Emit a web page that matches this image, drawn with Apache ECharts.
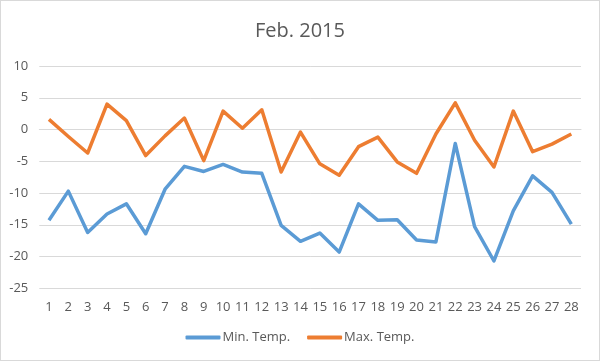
<!DOCTYPE html>
<html><head><meta charset="utf-8">
<script src="https://cdn.jsdelivr.net/npm/echarts@6/dist/echarts.min.js"></script>
<style>html,body{margin:0;padding:0;background:#fff}#c{width:598px;height:359px;border:1px solid #d9d9d9}</style>
</head><body><div id="c"></div>
<script>
const title = "Feb. 2015";
const days = ["1","2","3","4","5","6","7","8","9","10","11","12","13","14","15","16","17","18","19","20","21","22","23","24","25","26","27","28"];
const minTemp = [-14.3,-9.7,-16.2,-13.3,-11.7,-16.4,-9.4,-5.8,-6.6,-5.5,-6.7,-6.9,-15.1,-17.6,-16.3,-19.3,-11.7,-14.3,-14.2,-17.4,-17.7,-2.2,-15.3,-20.7,-12.8,-7.3,-9.9,-14.9];
const maxTemp = [1.6,-1.1,-3.7,4.0,1.4,-4.1,-1.0,1.8,-4.9,2.9,0.2,3.1,-6.7,-0.4,-5.4,-7.2,-2.7,-1.2,-5.1,-6.9,-0.7,4.2,-1.7,-5.9,2.9,-3.5,-2.3,-0.7];
const seriesNames = ["Min. Temp.","Max. Temp."];
const font = "'Open Sans', sans-serif";
const chart = echarts.init(document.getElementById('c'));
chart.setOption({
  animation:false,
  title:{text:title,left:'center',top:15,textStyle:{fontFamily:font,fontSize:20,fontWeight:'normal',color:'#595959'}},
  legend:{bottom:11,itemWidth:35,itemHeight:4,itemGap:17,icon:'roundRect',
    textStyle:{fontFamily:font,fontSize:13,color:'#595959',padding:[0,0,0,-3]},data:seriesNames},
  grid:{left:38.3,right:18,top:65,bottom:71.7,containLabel:false},
  xAxis:{type:'category',data:days,boundaryGap:true,
    axisLine:{lineStyle:{color:'#d9d9d9'}},axisTick:{show:false},
    axisLabel:{fontFamily:font,fontSize:13,color:'#595959',interval:0,margin:12}},
  yAxis:{type:'value',min:-25,max:10,interval:5,
    axisLine:{show:false},axisTick:{show:false},
    splitLine:{lineStyle:{color:'#d9d9d9'}},
    axisLabel:{fontFamily:font,fontSize:13,color:'#595959',margin:11}},
  series:[
    {name:seriesNames[0],type:'line',data:minTemp,symbol:'none',lineStyle:{width:3.5,color:'#5B9BD5',join:'round'},itemStyle:{color:'#5B9BD5'}},
    {name:seriesNames[1],type:'line',data:maxTemp,symbol:'none',lineStyle:{width:3.5,color:'#ED7D31',join:'round'},itemStyle:{color:'#ED7D31'}}
  ]
});
</script></body></html>
